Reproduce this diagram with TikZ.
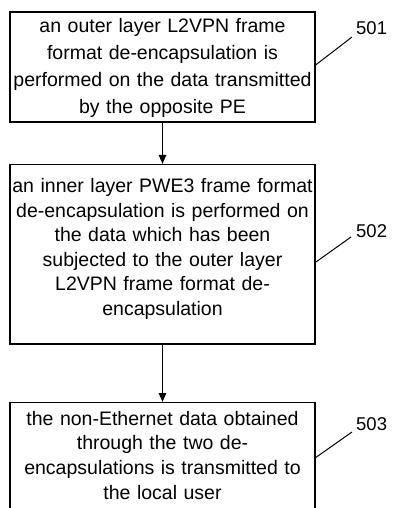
\documentclass[tikz,border=0pt]{standalone}
\usepackage{fontspec}
\setmainfont{Liberation Sans}
\usetikzlibrary{arrows.meta}
\begin{document}
\begin{tikzpicture}[x=1bp,y=-1bp,
  frame/.style={draw=black, line width=1.2bp, minimum width=305bp, inner sep=0pt},
  txt/.style={text width=340bp, align=center, inner sep=0pt, anchor=base},
  arr/.style={line width=1.1bp, -{Triangle[length=9bp,width=7.5bp]}},
  lead/.style={line width=1bp},
  lab/.style={font=\fontsize{18.5bp}{22bp}\selectfont, inner sep=0pt, anchor=west}]
\useasboundingbox (0,0) rectangle (393,508);
\clip (0,0) rectangle (393,508);
% boxes
\node[frame, minimum height=110bp] (b1) at (162.5,67) {};
\node[frame, minimum height=179.5bp] (b2) at (162.5,254.25) {};
\node[frame, minimum height=118bp, anchor=north] (b3) at (162.5,402) {};
% texts
\node[txt, font=\fontsize{19.5bp}{27bp}\selectfont] (t1) at (162.5,33)
  {an outer layer L2VPN frame\\format de-encapsulation is\\performed on the data transmitted\\by the opposite PE};
\node[txt, font=\fontsize{19.5bp}{24.4bp}\selectfont] (t2) at (162.5,193)
  {an inner layer PWE3 frame format\\de-encapsulation is performed on\\the data which has been\\subjected to the outer layer\\L2VPN frame format de-\\encapsulation};
\node[txt, font=\fontsize{19.5bp}{24.7bp}\selectfont] (t3) at (162.5,425)
  {the non-Ethernet data obtained\\through the two de-\\encapsulations is transmitted to\\the local user};
% arrows
\draw[arr] (b1) -- (b2);
\draw[arr] (b2) -- (b3);
% reference labels
\coordinate (e1) at (352,37);
\coordinate (e2) at (351,237);
\coordinate (e3) at (352,432);
\node[lab] (n501) at (356,28) {501};
\node[lab] (n502) at (356,231) {502};
\node[lab] (n503) at (356,424) {503};
\draw[lead] ([yshift=2bp]b1.east) -- (e1);
\draw[lead] ([yshift=-8bp]b2.east) -- (e2);
\draw[lead] ([yshift=4bp]b3.east) -- (e3);
\end{tikzpicture}
\end{document}
